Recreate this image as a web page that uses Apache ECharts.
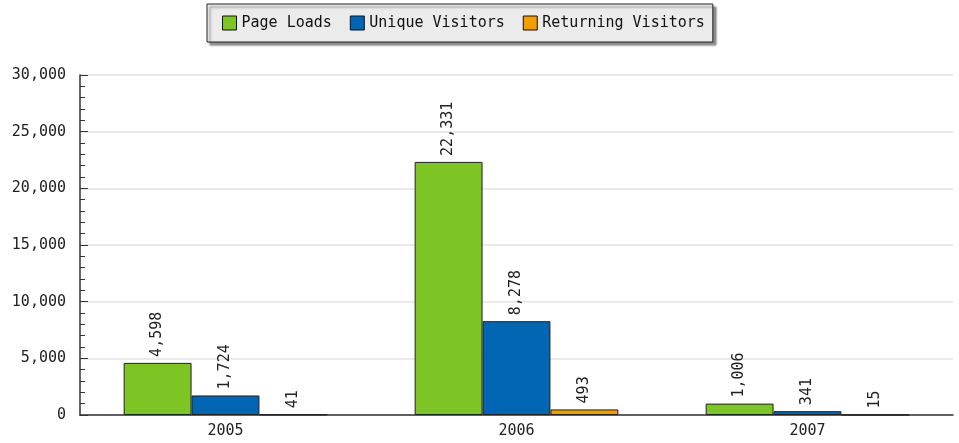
<!DOCTYPE html>
<html><head><meta charset="utf-8">
<script src="https://cdn.jsdelivr.net/npm/echarts@6/dist/echarts.min.js"></script>
<style>html,body{margin:0;padding:0;background:#fff}#c{width:959px;height:443px}</style>
</head><body><div id="c"></div>
<script>
var categories = ['2005', '2006', '2007'];
var pageLoads = [4598, 22331, 1006];
var uniqueVisitors = [1724, 8278, 341];
var returningVisitors = [41, 493, 15];
var seriesNames = ['Page Loads', 'Unique Visitors', 'Returning Visitors'];
var colors = ['#7dc425', '#0066b3', '#f29d00'];

var FONT = 'DejaVu Sans Mono';
function mkSeries(name, data, color) {
  return {
    name: name, type: 'bar', data: data, barGap: '0%', barCategoryGap: '30%',
    itemStyle: { color: color, borderColor: '#222', borderWidth: 1 },
    label: {
      show: true, position: 'top', rotate: 90, align: 'left', verticalAlign: 'middle',
      distance: 6, color: '#222', fontFamily: FONT, fontSize: 15,
      formatter: function (p) { return p.value.toLocaleString('en-US'); }
    }
  };
}
var chart = echarts.init(document.getElementById('c'));
chart.setOption({
  animation: false,
  color: colors,
  legend: {
    left: 207, top: 4,
    padding: [11, 8, 11, 15],
    itemGap: 18, itemWidth: 14, itemHeight: 14, icon: 'rect',
    backgroundColor: '#ebebeb', borderColor: '#222', borderWidth: 1,
    shadowColor: 'rgba(0,0,0,0.45)', shadowOffsetX: 3, shadowOffsetY: 3, shadowBlur: 2,
    itemStyle: { borderColor: '#111', borderWidth: 1 },
    textStyle: { fontFamily: FONT, fontSize: 15, color: '#111', lineHeight: 16 },
    data: seriesNames
  },
  grid: { left: 80, right: 6, top: 75, bottom: 28 },
  xAxis: {
    type: 'category', data: categories,
    axisLine: { lineStyle: { color: '#333', width: 1.5 } },
    axisTick: { inside: true, length: 9, lineStyle: { color: '#333' } },
    axisLabel: { fontFamily: FONT, fontSize: 15, color: '#222', margin: 9 }
  },
  yAxis: {
    type: 'value', min: 0, max: 30000, interval: 5000,
    axisLine: { show: true, lineStyle: { color: '#333', width: 1.5 } },
    axisTick: { show: true, inside: true, length: 8, lineStyle: { color: '#333' } },
    minorTick: { show: true, splitNumber: 5, length: 5, lineStyle: { color: '#333' } },
    splitLine: { lineStyle: { color: '#e3e3e3', width: 1.5 } },
    axisLabel: { fontFamily: FONT, fontSize: 15, color: '#222', margin: 14,
      formatter: function (v) { return v.toLocaleString('en-US'); } }
  },
  series: [
    mkSeries(seriesNames[0], pageLoads, colors[0]),
    mkSeries(seriesNames[1], uniqueVisitors, colors[1]),
    mkSeries(seriesNames[2], returningVisitors, colors[2])
  ]
});
</script></body></html>
